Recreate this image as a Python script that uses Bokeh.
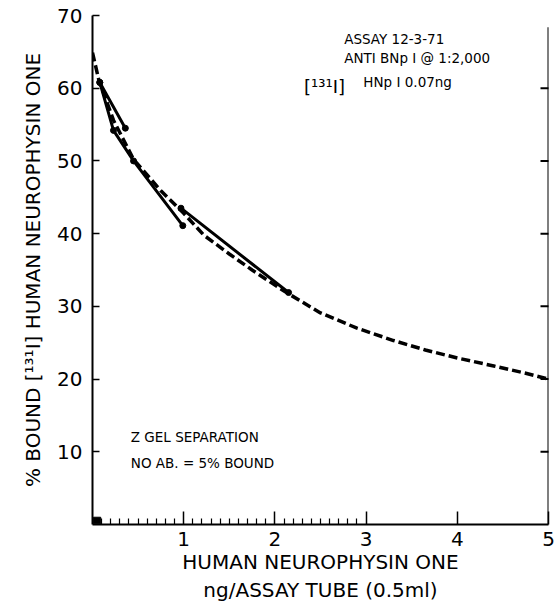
from bokeh.plotting import figure
from bokeh.models import Range1d, FixedTicker, Label
from bokeh.embed import file_html
from bokeh.resources import INLINE

# ---- data ----
dash_x = [0, 0.07, 0.23, 0.45, 0.75, 1.0, 1.22, 1.5, 1.75, 2.1, 2.5, 2.9, 3.3, 3.65, 4.0, 4.4, 4.75, 5.0]
dash_y = [64.9, 61.1, 55.6, 50.2, 45.9, 42.8, 39.8, 37.2, 35.0, 32.1, 29.1, 27.0, 25.3, 24.0, 22.9, 21.8, 20.8, 20.0]

solid1_x = [0.08, 0.23, 0.45, 0.99]
solid1_y = [60.8, 54.2, 50.0, 41.1]
solid2_x = [0.08, 0.36]
solid2_y = [60.8, 54.5]
solid3_x = [0.97, 2.15]
solid3_y = [43.5, 31.9]

block_x = [0.01, 0.09]
block_y = [0.1, 1.0]

x_major = [1, 2, 3, 4, 5]
x_minor = [round(i * 0.1, 1) for i in range(1, 30) if i % 10]
y_major = [10, 20, 30, 40, 50, 60, 70]
y_right = [10, 20, 30, 40, 50, 60]
x_right = 5
right_top = 68.4

FONT = "DejaVu Sans"

p = figure(width=555, height=606, output_backend="svg", toolbar_location=None,
           x_range=Range1d(0, 5), y_range=Range1d(0, 70),
           min_border_left=92, min_border_right=7, min_border_top=15, min_border_bottom=82)
p.grid.visible = False
p.outline_line_color = None
p.background_fill_color = "white"
p.border_fill_color = "white"

# x axis
xa = p.xaxis[0]
xa.ticker = FixedTicker(ticks=x_major, minor_ticks=x_minor)
xa.major_tick_in = 13
xa.major_tick_out = 0
xa.minor_tick_in = 6
xa.minor_tick_out = 0
xa.axis_line_width = 2
xa.major_tick_line_width = 1.5
xa.minor_tick_line_width = 1.2
xa.axis_line_color = "black"
xa.major_tick_line_color = "black"
xa.minor_tick_line_color = "black"
xa.major_label_text_font = FONT
xa.major_label_text_font_size = "20px"
xa.major_label_text_color = "black"
xa.major_label_standoff = 7
xa.axis_label = "HUMAN NEUROPHYSIN ONE\nng/ASSAY TUBE (0.5ml)"
xa.axis_label_text_font = FONT
xa.axis_label_text_font_size = "20px"
xa.axis_label_text_font_style = "normal"
xa.axis_label_text_color = "black"
xa.axis_label_standoff = 1

# y axis
ya = p.yaxis[0]
ya.ticker = FixedTicker(ticks=y_major)
ya.major_tick_in = 7
ya.major_tick_out = 0
ya.minor_tick_in = 0
ya.minor_tick_out = 0
ya.axis_line_width = 2
ya.major_tick_line_width = 1.5
ya.axis_line_color = "black"
ya.major_tick_line_color = "black"
ya.major_label_text_font = FONT
ya.major_label_text_font_size = "20px"
ya.major_label_text_color = "black"
ya.major_label_standoff = 10
ya.axis_label = "% BOUND [¹³¹I] HUMAN NEUROPHYSIN ONE"
ya.axis_label_text_font = FONT
ya.axis_label_text_font_size = "20px"
ya.axis_label_text_font_style = "normal"
ya.axis_label_text_color = "black"
ya.axis_label_standoff = 9

# right-hand border line with inward ticks
p.segment(x0=[x_right], y0=[0], x1=[x_right], y1=[right_top], line_color="black", line_width=2)
p.scatter([x_right] * len(y_right), y_right, marker="dash", size=16, line_color="black", line_width=2)

# data marks
p.quad(left=[block_x[0]], right=[block_x[1]], bottom=[block_y[0]], top=[block_y[1]],
       fill_color="black", line_color="black")
p.line(dash_x, dash_y, line_color="black", line_width=3.5, line_dash="9 4")
for sx, sy in [(solid1_x, solid1_y), (solid2_x, solid2_y), (solid3_x, solid3_y)]:
    p.line(sx, sy, line_color="black", line_width=3, line_cap="round", line_join="round")
    p.scatter(sx, sy, size=6, color="black")

def lab(x, y, t, size="13.5px"):
    p.add_layout(Label(x=x, y=y, text=t, text_font=FONT, text_font_size=size,
                       text_color="black", text_baseline="alphabetic", text_align="left"))

lab(2.76, 66.8, "ASSAY 12-3-71")
lab(2.76, 64.2, "ANTI BNp I @ 1:2,000")
lab(2.32, 60.3, "[¹³¹I]", "18px")
lab(2.97, 60.8, "HNp I 0.07ng")
lab(0.42, 12.0, "Z GEL SEPARATION")
lab(0.42, 8.4, "NO AB. = 5% BOUND")

open("out.html", "w").write(file_html(p, INLINE))
